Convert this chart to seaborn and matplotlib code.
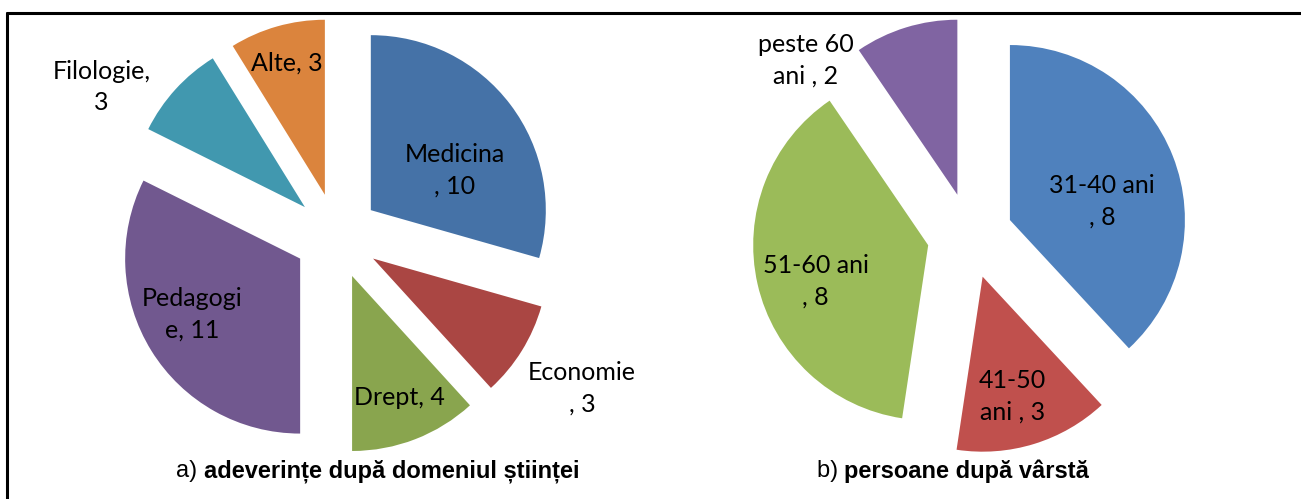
import numpy as np
import matplotlib
matplotlib.use("Agg")
import matplotlib.pyplot as plt
from matplotlib.lines import Line2D
import seaborn as sns

# data
domenii = ["Medicina", "Economie", "Drept", "Pedagogie", "Filologie", "Alte"]
adeverinte = [10, 3, 4, 11, 3, 3]
varste = ["31-40 ani ", "41-50 ani ", "51-60 ani ", "peste 60 ani "]
persoane = [8, 3, 8, 2]

culori_a = ["#4572A7", "#AA4643", "#89A54E", "#71588F", "#4198AF", "#DB843D"]
culori_b = ["#4F81BD", "#C0504D", "#9BBB59", "#8064A2"]

# where excel wrapped each data label (char index), None = one line
wrap_a = [8, 8, None, 8, 10, None]
wrap_b = [10, 5, 10, 8]
# label placement: radius (in pie radii) and angle shift (deg, clockwise)
lab_r_a = [0.77, 1.65, 0.99, 0.94, 1.59, 1.03]
lab_da_a = [8, 0, 0, 3.5, -10, 0]
lab_r_b = [0.78, 0.95, 0.92, 1.37]
lab_da_b = [7, 2.4, -3.5, -26]

W, H = 1301, 499
R = 175.0  # pie radius in px
EXPLODE = 0.245

sns.set_theme(style="white")
plt.rcParams["font.family"] = ["Lato", "DejaVu Sans"]

fig = plt.figure(figsize=(W / 100, H / 100), dpi=100)


def make_labels(cats, vals, sep, wraps):
    out = []
    for c, v, w in zip(cats, vals, wraps):
        s = f"{c}{sep}{v}"
        if w is not None:
            s = s[:w].rstrip() + "\n" + s[w:].lstrip()
        out.append(s)
    return out


def pie_panel(x0, x1, cx, cy, cats, vals, colors, sep, wraps, lab_r, lab_da):
    ax = fig.add_axes([x0 / W, 0, (x1 - x0) / W, 1])
    labels = make_labels(cats, vals, sep, wraps)
    wedges, texts = ax.pie(vals, labels=labels, colors=colors,
                           explode=[EXPLODE] * len(vals), startangle=90,
                           counterclock=False, radius=1,
                           wedgeprops=dict(linewidth=0),
                           textprops=dict(fontsize=18, color="black"))
    total = float(sum(vals))
    start = 0.0
    for t, v, r, da in zip(texts, vals, lab_r, lab_da):
        mid = start + 180.0 * v / total
        start += 360.0 * v / total
        a = np.radians(mid + da)
        t.set_position((r * np.sin(a), r * np.cos(a)))
        t.set_ha("center")
        t.set_va("center")
        t.set_linespacing(1.45)
    ax.set_aspect("auto")
    ax.set_xlim((x0 - cx) / R, (x1 - cx) / R)
    ax.set_ylim(-(H - cy) / R, cy / R)
    ax.axis("off")
    return ax


pie_panel(0, 650, 336.6, 236, domenii, adeverinte, culori_a, ", ",
          wrap_a, lab_r_a, lab_da_a)
pie_panel(650, 1301, 970, 235.7, varste, persoane, culori_b, ", ",
          wrap_b, lab_r_b, lab_da_b)

# captions: regular prefix + bold text
for prefix, bold, xc in [("a) ", "adeverințe după domeniul științei", 378),
                         ("b) ", "persoane după vârstă", 953)]:
    t0 = fig.text(0, 0, prefix, fontsize=17, family="Liberation Sans",
                  color="black")
    t1 = fig.text(0, 0, bold, fontsize=17, family="Liberation Sans",
                  weight="bold", color="black")
    fig.canvas.draw()
    w0 = t0.get_window_extent().width
    w1 = t1.get_window_extent().width
    left = xc - (w0 + w1) / 2
    y = (H - 471) / H
    t0.set_position((left / W, y))
    t1.set_position(((left + w0) / W, y))
    t0.set_va("center")
    t1.set_va("center")

# cell border: top and left only
fig.add_artist(Line2D([7 / W, 1], [1 - 13 / H, 1 - 13 / H], color="black",
                      linewidth=2.2, transform=fig.transFigure))
fig.add_artist(Line2D([7 / W, 7 / W], [0, 1 - 13 / H], color="black",
                      linewidth=2.2, transform=fig.transFigure))

fig.savefig("out.png", dpi=100, facecolor="white")
